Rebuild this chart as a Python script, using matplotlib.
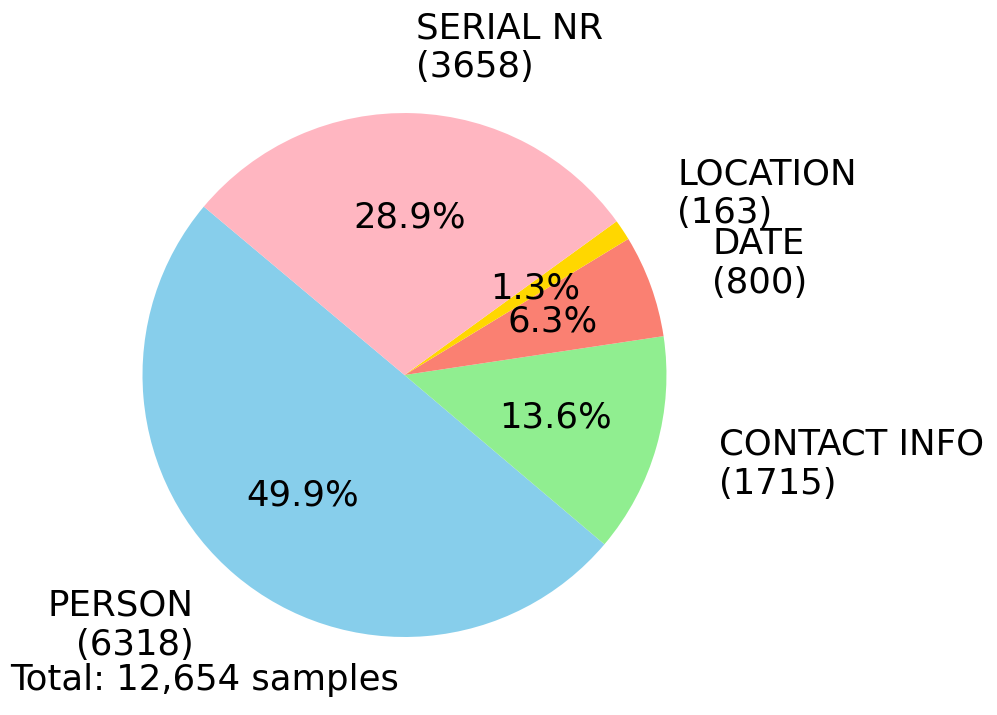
import matplotlib.pyplot as plt

categories = ['PERSON', 'CONTACT INFO', 'DATE', 'LOCATION', 'SERIAL NR']
counts = [6318, 1715, 800, 163, 3658]
colors = ['skyblue', 'lightgreen', 'salmon', 'gold', 'lightpink']

labels = [f'{c}\n({n})' for c, n in zip(categories, counts)]
total = sum(counts)

fig = plt.figure(figsize=(9.97, 7.15), dpi=100)
ax = fig.add_axes([0.0772, 0.0175, 0.657, 0.916])
ax.pie(counts, labels=labels, colors=colors, autopct='%1.1f%%',
       startangle=140, labeldistance=1.25, pctdistance=0.6,
       textprops={'fontsize': 25.6})
ax.set_aspect('equal')

ax.text(-1.506, -1.202, f'Total: {total:,} samples', fontsize=25.6,
        ha='left', va='baseline')

fig.savefig('out.png', dpi=100)
